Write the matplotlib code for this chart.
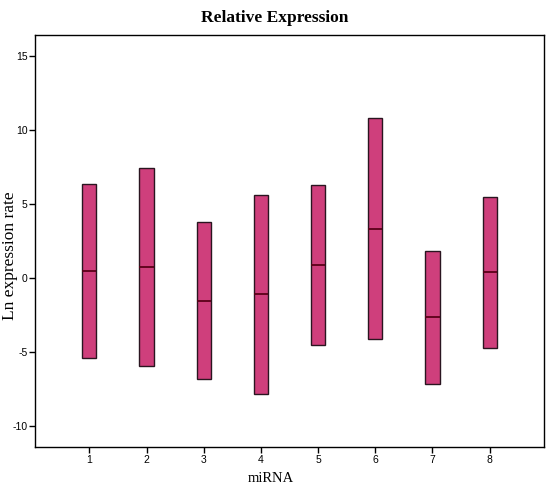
import matplotlib
matplotlib.use("Agg")
import matplotlib.pyplot as plt

plt.rcParams["axes.unicode_minus"] = False

categories = ["1", "2", "3", "4", "5", "6", "7", "8"]
lows = [-5.39, -5.93, -6.79, -7.78, -4.49, -4.09, -7.13, -4.67]
highs = [6.39, 7.45, 3.82, 5.62, 6.32, 10.82, 1.88, 5.53]
medians = [0.49, 0.78, -1.50, -1.05, 0.93, 3.37, -2.62, 0.44]
yticks = [-10, -5, 0, 5, 10, 15]

fig = plt.figure(figsize=(5.5, 4.87), dpi=100)
ax = fig.add_axes([35/550, 1 - 447/487, (544-35)/550, (447-35)/487])

pos = list(range(1, len(categories) + 1))
w = 0.25
heights = [h - l for h, l in zip(highs, lows)]
ax.bar(pos, heights, bottom=lows, width=w, color="#CF3F7C",
       edgecolor="#2a1520", linewidth=1.0, zorder=2)
ax.hlines(medians, [p - w/2 for p in pos], [p + w/2 for p in pos],
          colors="#5a0018", linewidth=1.3, zorder=3)

ax.set_xlim(0.05, 8.95)
ax.set_ylim(-11.39, 16.45)
ax.set_xticks(pos)
ax.set_xticklabels(categories)
ax.set_yticks(yticks)
ax.tick_params(axis="both", direction="out", length=4, width=1,
               labelsize=7.5, pad=1.5)
for lab in ax.get_xticklabels() + ax.get_yticklabels():
    lab.set_family("Liberation Sans")
for s in ax.spines.values():
    s.set_linewidth(1.0)

ax.set_xlabel("miRNA", family="Liberation Serif", fontsize=10.5, va="center")
ax.set_ylabel("Ln expression rate", family="Liberation Serif", fontsize=12.5, va="center")
ax.xaxis.set_label_coords((271 - 35) / 509, -(479 - 447) / 412)
ax.yaxis.set_label_coords((10 - 35) / 509, (447 - 256) / 412)
fig.text(0.5, 1 - 18/487, "Relative Expression", family="Liberation Serif",
         fontweight="bold", fontsize=12.5, ha="center", va="center")

fig.savefig("out.png", dpi=100, facecolor="white")
